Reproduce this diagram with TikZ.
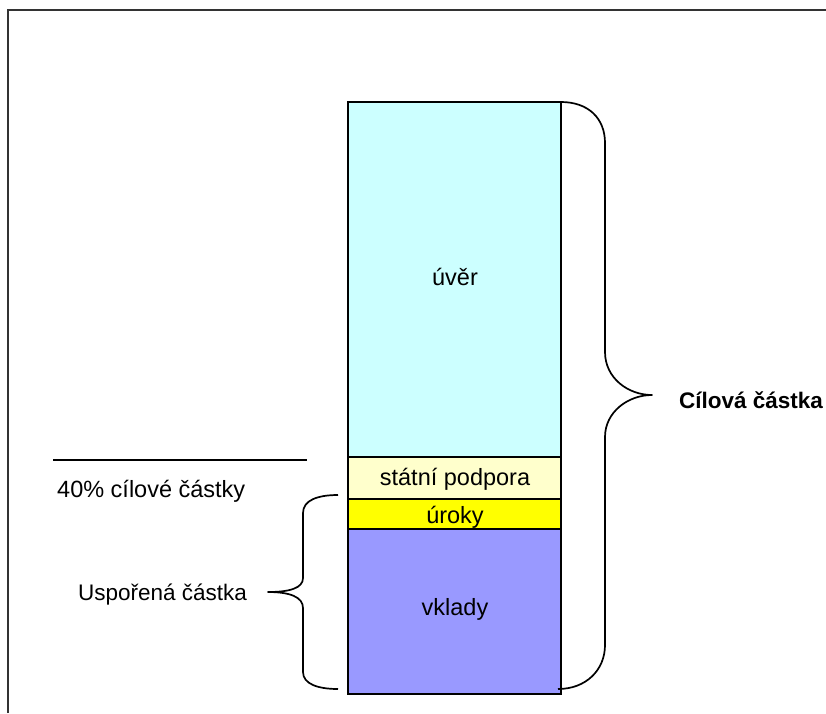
\documentclass[tikz,border=0pt]{standalone}
\usepackage{fontspec}
\setmainfont{Liberation Sans}
\definecolor{cuver}{HTML}{CCFFFF}
\definecolor{cpodpora}{HTML}{FFFFCC}
\definecolor{curoky}{HTML}{FFFF00}
\definecolor{cvklady}{HTML}{9999FF}
\begin{document}
\begin{tikzpicture}[x=1pt,y=-1pt,
  seg/.style={draw=black, line width=1.8pt},
  lbl/.style={inner sep=0pt, font=\fontsize{23.5}{28}\selectfont},
  brace/.style={draw=black, line width=1.7pt, line join=round}]
\useasboundingbox (0,0) rectangle (826,713);
% frame
\draw[black!80, line width=1.5pt] (8,713) -- (8,10) -- (826,10);
% bar segments
\draw[seg, fill=cuver] (348,102) rectangle (561,457);
\draw[seg, fill=cpodpora] (348,457) rectangle (561,499);
\draw[seg, fill=curoky] (348,499) rectangle (561,529);
\draw[seg, fill=cvklady] (348,529) rectangle (561,694);
\node[lbl, anchor=base] (uver) at (455,285) {úvěr};
\node[lbl, anchor=base] (podpora) at (455,485) {státní podpora};
\node[lbl, anchor=base] (uroky) at (455,523) {úroky};
\node[lbl, anchor=base] (vklady) at (455,615) {vklady};
% 40% line
\coordinate (la) at (53,460);
\coordinate (lb) at (307,460);
\draw[black, line width=1.8pt] (la) -- (lb);
\node[lbl, anchor=base west] (ctyricet) at (57,497) {40\% cílové částky};
% right brace
\draw[brace] (561,102) .. controls (588,102) and (605,118) .. (605,143)
  -- (605,352) .. controls (605,378) and (628,395) .. (652,395)
  .. controls (628,395) and (605,412) .. (605,437)
  -- (605,645) .. controls (605,670) and (586,689) .. (558,689);
\node[lbl, anchor=base west, font=\fontsize{22.5}{27}\selectfont\bfseries] (cilova) at (679,408) {Cílová částka};
% left brace
\draw[brace] (338,495) .. controls (318,495) and (303,500) .. (303,513)
  -- (303,578) .. controls (303,588) and (290,592) .. (268,592)
  .. controls (290,592) and (303,597) .. (303,608)
  -- (303,672) .. controls (303,684) and (318,689) .. (338,689);
\node[lbl, anchor=base west, font=\fontsize{22.5}{27}\selectfont] (usporena) at (78,600) {Uspořená částka};
\end{tikzpicture}
\end{document}
